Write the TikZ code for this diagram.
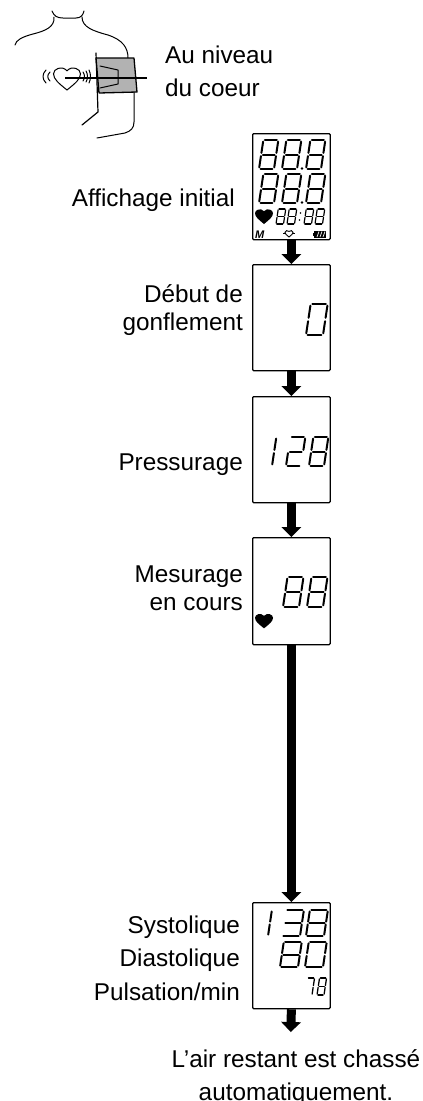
\documentclass[tikz,border=0pt]{standalone}
\usepackage{fontspec}
\setmainfont{Liberation Sans}
\usetikzlibrary{arrows.meta}

% seven-segment digit: [stroke] x, baseline y, width, height, segments
\newcommand\lcd[6][2]{%
  \begin{scope}[shift={(#2,#3)},xslant=0.15,yscale=-1,line width=#1pt,line cap=round]
    \def\dw{#4}\def\dh{#5}%
    \pgfmathsetmacro\dm{#5/2}\pgfmathsetmacro\dg{#5*0.055}%
    #6
  \end{scope}}
\newcommand\lcdA{\draw (\dg,\dh) -- ({\dw-\dg},\dh);}
\newcommand\lcdB{\draw (\dw,{\dh-\dg}) -- (\dw,{\dm+\dg});}
\newcommand\lcdC{\draw (\dw,{\dm-\dg}) -- (\dw,\dg);}
\newcommand\lcdD{\draw (\dg,0) -- ({\dw-\dg},0);}
\newcommand\lcdE{\draw (0,\dg) -- (0,{\dm-\dg});}
\newcommand\lcdF{\draw (0,{\dm+\dg}) -- (0,{\dh-\dg});}
\newcommand\lcdG{\draw (\dg,\dm) -- ({\dw-\dg},\dm);}
\newcommand\lcdEight{\lcdA\lcdB\lcdC\lcdD\lcdE\lcdF\lcdG}
\newcommand\lcdZero{\lcdA\lcdB\lcdC\lcdD\lcdE\lcdF}
\newcommand\lcdOne{\lcdB\lcdC}
\newcommand\lcdTwo{\lcdA\lcdB\lcdG\lcdE\lcdD}
\newcommand\lcdThree{\lcdA\lcdB\lcdG\lcdC\lcdD}
\newcommand\lcdSeven{\lcdA\lcdB\lcdC}

\tikzset{
  lbl/.style={font=\fontsize{24.3}{28}\selectfont, inner sep=0pt},
  lcdbox/.style={draw, line width=1.3pt, rounded corners=1pt, minimum width=77.5pt,
                 inner sep=0pt, anchor=north west},
  flow/.style={line width=9pt, -{Triangle[width=20pt,length=10pt,line width=0pt]}},
  sketch/.style={line width=1pt, line cap=round, line join=round},
  pics/heart/.style={code={%
    \path[pic actions] (0,1) .. controls (-0.6,0.45) and (-1,0.1) .. (-1,-0.35)
      .. controls (-1,-0.8) and (-0.35,-1.05) .. (0,-0.6)
      .. controls (0.35,-1.05) and (1,-0.8) .. (1,-0.35)
      .. controls (1,0.1) and (0.6,0.45) .. (0,1) -- cycle;}}
}

\begin{document}
\begin{tikzpicture}[x=1pt,y=-1pt]
\path[use as bounding box, fill=white] (0,0) rectangle (423,1101);

% ---- person with cuff at heart level ----
\draw[sketch] (52,11) .. controls (54,16) and (57,18) .. (63,18) -- (76,18)
  .. controls (81,18) and (83,15) .. (84,11);
\draw[sketch] (54,17) .. controls (55,27) and (45,31) .. (33,34)
  .. controls (22,37) and (16,40) .. (15,45);
\draw[sketch] (82,17) .. controls (82,27) and (93,31) .. (108,35)
  .. controls (123,40) and (128,48) .. (128,58);
\draw[sketch] (134,92) -- (134,122) .. controls (134,128) and (131,131) .. (125,133) -- (97,138);
\draw[sketch, line width=1.2pt] (96,53) -- (98,112) -- (82,125);
\draw[line width=1.3pt, fill=black!30, line join=round] (96,58) -- (134,58) -- (137,92) -- (99,93) -- cycle;
\draw[sketch] (100,66) -- (118,70) -- (118,84) -- (100,88);
\pic[draw, line width=1pt, xscale=13.5, yscale=12] at (67,78) {heart};
\draw[sketch] (46,70) .. controls (42,74) and (42,79) .. (46,83);
\draw[sketch] (50,72) .. controls (47,75) and (47,78) .. (50,81);
\draw[sketch] (83,72) .. controls (85,75) and (85,78) .. (83,81);
\draw[sketch] (86,71) .. controls (88,74) and (88,79) .. (86,82);
\draw[sketch] (89,70) .. controls (91,74) and (91,79) .. (89,83);
\draw[line width=1.3pt] (65,78) -- (147,78);
% multi-line labels are anchored on the baseline of their last line
\node[lbl, anchor=base west, align=left] (level) at (165,96) {Au niveau\\[5pt]du coeur};

% ---- display boxes ----
\node[lcdbox, minimum height=106pt] (b1) at (252,133) {};
\node[lcdbox, minimum height=106pt] (b2) at (252,264) {};
\node[lcdbox, minimum height=106pt] (b3) at (252,396) {};
\node[lcdbox, minimum height=107pt] (b4) at (252,537) {};
\node[lcdbox, minimum height=106pt] (b5) at (252,902) {};
\coordinate (out) at (290.75,1032);

% ---- labels ----
\node[lbl, anchor=base east] (l1) at (235,206) {Affichage initial};
\node[lbl, anchor=base east, align=right] (l2) at (243,330) {Début de\\gonflement};
\node[lbl, anchor=base east] (l3) at (243,470) {Pressurage};
\node[lbl, anchor=base east, align=right] (l4) at (243,610) {Mesurage\\en cours};
\node[lbl, anchor=base east, align=right] (l5) at (240,1000) {Systolique\\[5.5pt]Diastolique\\[5.5pt]Pulsation/min};
\node[lbl, anchor=base, align=center] (l6) at (296,1100) {L’air restant est chassé\\[5pt]automatiquement.};

% ---- flow arrows ----
\draw[flow] (b1.south) -- (b2.north);
\draw[flow] (b2.south) -- (b3.north);
\draw[flow] (b3.south) -- (b4.north);
\draw[flow] (b4.south) -- (b5.north);
\draw[flow] (b5.south) -- (out);

% ---- initial display: all segments ----
\lcd{259}{169}{15}{29}{\lcdEight}
\lcd{282}{169}{15}{29}{\lcdEight}
\lcd{306}{169}{15}{29}{\lcdEight}
\fill (302,168.5) circle (1.3);
\lcd{259}{203}{15}{29}{\lcdEight}
\lcd{282}{203}{15}{29}{\lcdEight}
\lcd{306}{203}{15}{29}{\lcdEight}
\fill (302,202.5) circle (1.3);
\pic[fill=black, xscale=9, yscale=8] at (264,216) {heart};
\lcd[1.2]{276}{224}{7.5}{15}{\lcdEight}
\lcd[1.2]{287}{224}{7.5}{15}{\lcdEight}
\fill (300.5,213) circle (0.9) (299.5,220) circle (0.9);
\lcd[1.2]{304}{224}{7.5}{15}{\lcdEight}
\lcd[1.2]{315}{224}{7.5}{15}{\lcdEight}
\node[inner sep=0pt, anchor=base west, font=\fontsize{11}{11}\selectfont\bfseries\itshape] (mem) at (255,238) {M};
\draw[line width=1pt] (283,233) -- (285,233) (293,233) -- (295,233);
\pic[draw, line width=0.9pt, xscale=4, yscale=3.5] at (289,233.5) {heart};
\fill (314,231) rectangle (326,237.5);
\fill (312.5,232.5) rectangle (314,236);
\draw[white, line width=0.7pt] (317,237) -- (319,231.5) (320,237) -- (322,231.5) (323,237) -- (325,231.5);

% ---- inflation start ----
\lcd{306}{335}{17}{31}{\lcdZero}
% ---- pressurising ----
\lcd{272}{466}{0}{29}{\lcdOne}
\lcd{286}{466}{15}{29}{\lcdTwo}
\lcd{309}{466}{15}{29}{\lcdEight}
% ---- measuring ----
\lcd{283}{607}{16}{30}{\lcdEight}
\lcd{307}{607}{16}{30}{\lcdEight}
\pic[fill=black, xscale=9, yscale=7.8] at (264,620.5) {heart};
% ---- result ----
\lcd{268}{936}{0}{26}{\lcdOne}
\lcd{282}{936}{18}{26}{\lcdThree}
\lcd{306}{936}{18}{26}{\lcdEight}
\lcd{280}{967}{18}{25}{\lcdEight}
\lcd{305}{967}{18}{25}{\lcdZero}
\lcd[1.3]{305}{995}{7}{17}{\lcdSeven}
\lcd[1.3]{317}{995}{7}{17}{\lcdEight}
\end{tikzpicture}
\end{document}
